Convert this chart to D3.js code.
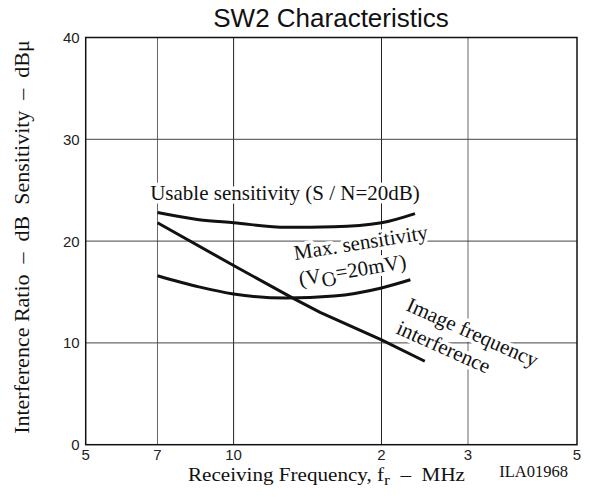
<!DOCTYPE html>
<html>
<head>
<meta charset="utf-8">
<script src="https://cdn.jsdelivr.net/npm/d3@7"></script>
<style>
  html, body { margin: 0; padding: 0; background: #fff; }
  svg { display: block; }
  text { white-space: pre; }
</style>
</head>
<body>
<svg id="chart" width="591" height="501"></svg>
<script>
// ---- data ----
const freqTicks = [5, 7, 10, 20, 30, 50];
const freqTickLabels = ["5", "7", "10", "2", "3", "5"];
const yTicks = [0, 10, 20, 30, 40];

const usableFreq = [7, 8.5, 10, 12.8, 16, 20, 23.4];
const usableVal  = [22.8, 22.1, 21.8, 21.35, 21.4, 21.8, 22.7];

const maxSensFreq = [7, 8.5, 10, 12.8, 16, 20, 22.9];
const maxSensVal  = [16.6, 15.5, 14.8, 14.4, 14.6, 15.4, 16.2];

const imageFreq = [7, 10, 13.2, 15, 20, 24.5];
const imageVal  = [21.8, 17.6, 14.4, 13.0, 10.3, 8.2];

// ---- layout ----
const svg = d3.select("#chart");
const m = { left: 85.7, right: 577, top: 37.5, bottom: 444.7 };
const serif = "'Liberation Serif', 'Times New Roman', serif";
const sans = "'Liberation Sans', Arial, sans-serif";

const x = d3.scaleLog().domain([5, 50]).range([m.left, m.right]);
const y = d3.scaleLinear().domain([0, 40]).range([m.bottom, m.top]);

// grid
const grid = svg.append("g");
grid.selectAll("line.v").data(freqTicks.slice(1, -1)).join("line")
  .attr("x1", d => x(d)).attr("x2", d => x(d))
  .attr("y1", m.top).attr("y2", m.bottom)
  .attr("stroke", d => (d === 10 || d === 20) ? "#222" : "#666")
  .attr("stroke-width", 1);
grid.selectAll("line.h").data(yTicks.slice(1, -1)).join("line")
  .attr("x1", m.left).attr("x2", m.right)
  .attr("y1", d => y(d)).attr("y2", d => y(d))
  .attr("stroke", "#444").attr("stroke-width", 1);

// annotation labels (white halo masks grid)
const ann = svg.append("g")
  .attr("font-family", serif).attr("font-size", 21).attr("fill", "#111")
  .attr("stroke", "#fff").attr("stroke-width", 7).attr("paint-order", "stroke")
  .attr("stroke-linejoin", "round");

ann.append("text").attr("x", 285).attr("y", 200).attr("text-anchor", "middle")
  .text("Usable sensitivity (S / N=20dB)");

ann.append("text").attr("transform", "translate(295,260) rotate(-9)")
  .text("Max. sensitivity");
const vo = ann.append("text").attr("transform", "translate(300,286) rotate(-9.5)");
vo.append("tspan").text("(V");
vo.append("tspan").attr("dy", 5).text("O");
vo.append("tspan").attr("dy", -5).text("=20mV)");

ann.append("text").attr("transform", "translate(405,310) rotate(24)")
  .text("Image frequency");
ann.append("text").attr("transform", "translate(395,333) rotate(24)")
  .text("interference");

// curves
const lineSmooth = d3.line().x(d => x(d[0])).y(d => y(d[1])).curve(d3.curveMonotoneX);
const lineStraight = d3.line().x(d => x(d[0])).y(d => y(d[1]));
const curves = svg.append("g").attr("fill", "none").attr("stroke", "#111")
  .attr("stroke-width", 3).attr("stroke-linecap", "butt");
curves.append("path").attr("d", lineSmooth(d3.zip(usableFreq, usableVal)));
curves.append("path").attr("d", lineSmooth(d3.zip(maxSensFreq, maxSensVal)));
curves.append("path").attr("d", lineStraight(d3.zip(imageFreq, imageVal)));

// frame
svg.append("rect").attr("x", m.left).attr("y", m.top)
  .attr("width", m.right - m.left).attr("height", m.bottom - m.top)
  .attr("fill", "none").attr("stroke", "#111").attr("stroke-width", 1.5);

// y tick labels
svg.append("g").attr("font-family", sans).attr("font-size", 15).attr("fill", "#222")
  .selectAll("text").data(yTicks).join("text")
  .attr("x", m.left - 6).attr("y", d => y(d)).attr("dy", "0.36em")
  .attr("text-anchor", "end").text(d => d);

// x tick labels
svg.append("g").attr("font-family", sans).attr("font-size", 15).attr("fill", "#222")
  .selectAll("text").data(freqTicks).join("text")
  .attr("x", d => x(d)).attr("y", (d, i) => freqTickLabels[i] === "10" ? 460 : 459.5)
  .attr("text-anchor", "middle").text((d, i) => freqTickLabels[i]);

// title
svg.append("text").attr("x", 331).attr("y", 27).attr("text-anchor", "middle")
  .attr("font-family", sans).attr("font-size", 26).attr("fill", "#111")
  .text("SW2 Characteristics");

// x axis title
const xt = svg.append("text").attr("x", 188).attr("y", 481)
  .attr("font-family", serif).attr("font-size", 18).attr("fill", "#111")
  .attr("textLength", 277).attr("lengthAdjust", "spacingAndGlyphs");
xt.append("tspan").text("Receiving Frequency, f");
xt.append("tspan").attr("dy", 4).attr("font-size", 15).text("r");
xt.append("tspan").attr("dy", -4).text("  –  MHz");

svg.append("text").attr("x", 568).attr("y", 477).attr("text-anchor", "end")
  .attr("font-family", serif).attr("font-size", 16.5).attr("fill", "#111")
  .text("ILA01968");

// y axis title
svg.append("text").attr("transform", "translate(29,237) rotate(-90)")
  .attr("text-anchor", "middle").attr("font-family", serif).attr("font-size", 22)
  .attr("fill", "#111")
  .text("Interference Ratio  –  dB  Sensitivity  –  dBμ");
</script>
</body>
</html>
